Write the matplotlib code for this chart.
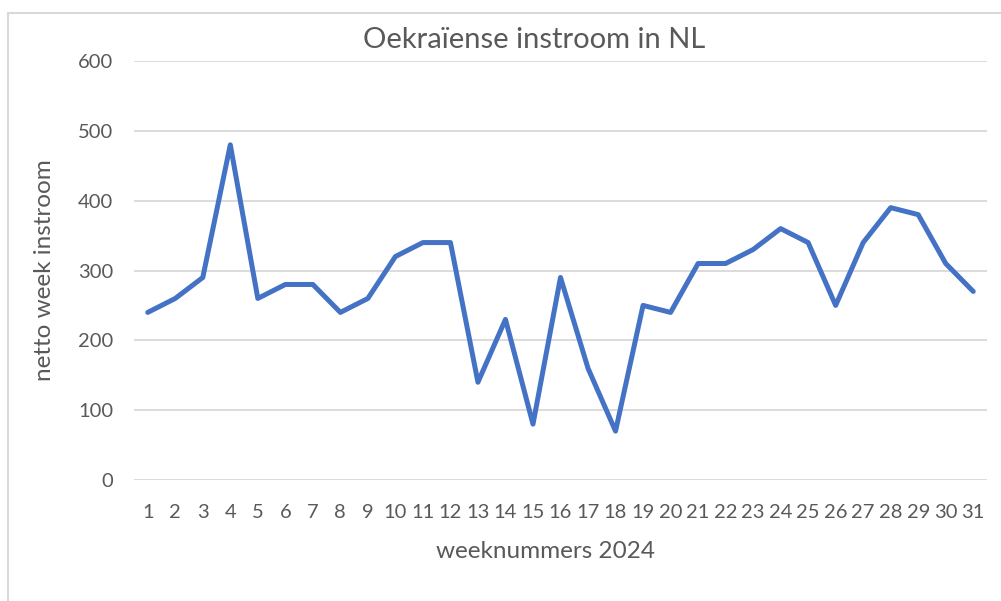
import matplotlib.pyplot as plt
from matplotlib.patches import Rectangle

weeks = list(range(1, 32))
instroom = [240, 260, 290, 480, 260, 280, 280, 240, 260, 320,
            340, 340, 140, 230, 80, 290, 160, 70, 250, 240,
            310, 310, 330, 360, 340, 250, 340, 390, 380, 310, 270]
y_ticks = [0, 100, 200, 300, 400, 500, 600]

TEXT = "#595959"
plt.rcParams["font.family"] = ["Lato", "DejaVu Sans"]

fig = plt.figure(figsize=(10.01, 6.01), dpi=100)
fig.patches.append(Rectangle((8 / 1001, -0.1), 1.2, (601 - 13) / 601 + 0.1,
                             transform=fig.transFigure, fill=False,
                             edgecolor="#d9d9d9", lw=1.5))

ax = fig.add_axes([134 / 1001, (601 - 480) / 601, 853 / 1001, 419 / 601])
ax.plot(weeks, instroom, color="#4472C4", lw=3.6,
        solid_joinstyle="round", solid_capstyle="round", zorder=3)

ax.set_xlim(0.5, 31.5)
ax.set_ylim(0, 600)
ax.set_yticks(y_ticks)
ax.set_xticks(weeks)
ax.set_xticklabels([str(w) for w in weeks])
ax.grid(axis="y", color="#d9d9d9", lw=1.3)
ax.set_axisbelow(True)
for s in ax.spines.values():
    s.set_visible(False)
ax.tick_params(length=0, labelsize=14.5, colors=TEXT)
ax.tick_params(axis="x", pad=17)
ax.tick_params(axis="y", pad=15)

fig.text(534 / 1001, 1 - 40 / 601, "Oekraïense instroom in NL",
         fontsize=21, color=TEXT, ha="center", va="center")
ax.set_xlabel("weeknummers 2024", fontsize=17.5, color=TEXT, va="center")
ax.xaxis.set_label_coords(0.482, -0.17)
ax.set_ylabel("netto week instroom", fontsize=17.5, color=TEXT, va="center")
ax.yaxis.set_label_coords((45 - 134) / 853, (480 - 270) / 419)

fig.savefig("out.png", dpi=100)
